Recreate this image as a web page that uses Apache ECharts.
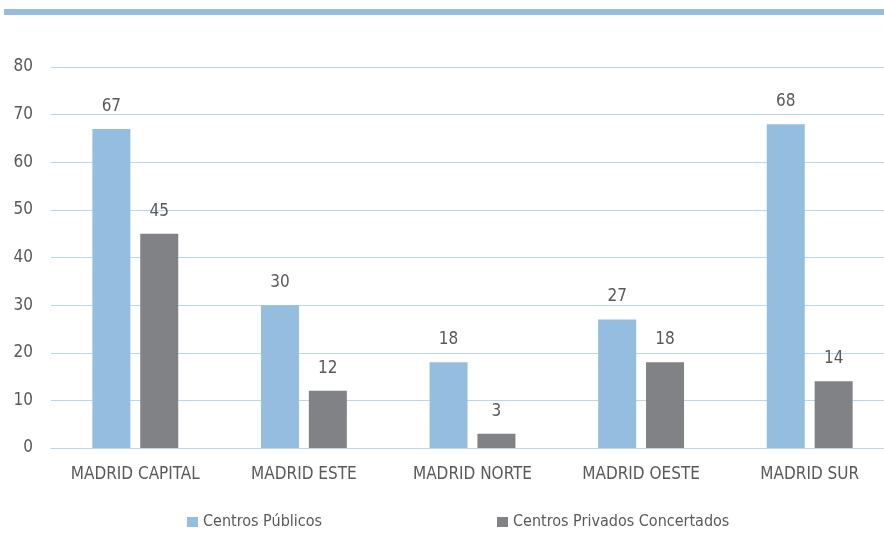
<!DOCTYPE html>
<html><head><meta charset="utf-8">
<script src="https://cdn.jsdelivr.net/npm/echarts@6/dist/echarts.min.js"></script>
<style>html,body{margin:0;padding:0;background:#fff}#c{width:884px;height:533px}</style>
</head><body><div id="c"></div>
<script>
const categories = ['MADRID CAPITAL','MADRID ESTE','MADRID NORTE','MADRID OESTE','MADRID SUR'];
const publicos = [67,30,18,27,68];
const privados = [45,12,3,18,14];
const yTicks = [0,10,20,30,40,50,60,70,80];
const FONT = "'Liberation Sans Narrow','DejaVu Sans Condensed','Arial Narrow',sans-serif";
const chart = echarts.init(document.getElementById('c'), null, {renderer:'canvas'});
chart.setOption({
  animation:false,
  textStyle:{fontFamily:FONT},
  graphic:[{type:'rect',shape:{x:4,y:9,width:880,height:6},style:{fill:'#95bddf'}}],
  grid:{left:51,width:843,top:67,height:381,containLabel:false,outerBoundsMode:'none'},
  legend:[
    {data:['Centros Públicos'],left:187,top:514,padding:0,itemWidth:11,itemHeight:10,icon:'rect',
     textStyle:{fontFamily:FONT,fontSize:16,color:'#595959',padding:[0,0,0,0]}},
    {data:['Centros Privados Concertados'],left:497,top:514,padding:0,itemWidth:11,itemHeight:10,icon:'rect',
     textStyle:{fontFamily:FONT,fontSize:16,color:'#595959',padding:[0,0,0,0]}}
  ],
  xAxis:{type:'category',data:categories,
    axisLine:{show:true,lineStyle:{color:'#bcd6ea',width:1}},axisTick:{show:false},
    axisLabel:{interval:0,fontFamily:FONT,fontSize:17,color:'#595959',margin:18}},
  yAxis:{type:'value',min:0,max:80,interval:10,
    axisLine:{show:false},axisTick:{show:false},
    splitLine:{lineStyle:{color:'#bcd6ea',width:1}},
    axisLabel:{fontFamily:FONT,fontSize:17,color:'#595959',margin:18,
      formatter:v=>yTicks.includes(v)?String(v):''}},
  series:[
    {name:'Centros Públicos',type:'bar',data:publicos,barWidth:38,barGap:'26%',
     itemStyle:{color:'#95bddf'},
     label:{show:true,position:'top',distance:14,fontFamily:FONT,fontSize:17,color:'#595959'}},
    {name:'Centros Privados Concertados',type:'bar',data:privados,barWidth:38,
     itemStyle:{color:'#808285'},
     label:{show:true,position:'top',distance:14,fontFamily:FONT,fontSize:17,color:'#595959'}}
  ]
});
</script></body></html>
